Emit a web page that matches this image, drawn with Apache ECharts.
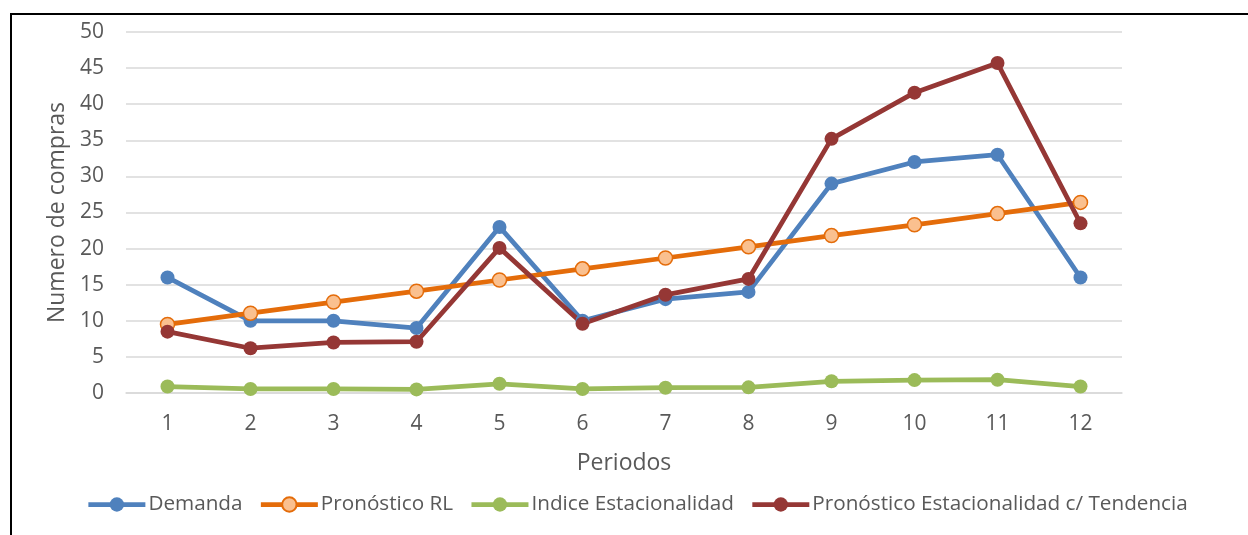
<!DOCTYPE html>
<html>
<head>
<meta charset="utf-8">
<script src="https://cdn.jsdelivr.net/npm/echarts@6/dist/echarts.min.js"></script>
<style>
  html, body { margin: 0; padding: 0; background: #fff; overflow: hidden; }
  #frame { position: absolute; left: 10px; top: 13px; width: 1400px; height: 700px; border: 2px solid #000; box-sizing: border-box; }
  #chart { position: absolute; left: 0; top: 0; width: 1248px; height: 535px; }
</style>
</head>
<body>
<div id="frame"></div>
<div id="chart"></div>
<script>
// Periods and series
const periodos = ['1','2','3','4','5','6','7','8','9','10','11','12'];
const demanda = [16, 10, 10, 9, 23, 10, 13, 14, 29, 32, 33, 16];
const pronosticoRL = [9.5, 11.05, 12.6, 14.1, 15.65, 17.2, 18.7, 20.25, 21.8, 23.3, 24.85, 26.4];
const indiceEstacionalidad = [0.89, 0.56, 0.56, 0.5, 1.28, 0.56, 0.73, 0.78, 1.62, 1.79, 1.84, 0.89];
const pronosticoEstTend = [8.5, 6.2, 7.0, 7.1, 20.1, 9.6, 13.6, 15.8, 35.2, 41.6, 45.7, 23.5];

const FONT = '"Open Sans", sans-serif';
const TXT = '#595959';

const chart = echarts.init(document.getElementById('chart'));

function lineSeries(name, data, color, fill) {
  return {
    name: name,
    type: 'line',
    data: data,
    symbol: 'circle',
    symbolSize: 14,
    showAllSymbol: true,
    lineStyle: { color: color, width: 4.75 },
    itemStyle: fill
      ? { color: fill, borderColor: color, borderWidth: 1.5 }
      : { color: color, borderWidth: 0 },
    emphasis: { disabled: true },
    animation: false
  };
}

chart.setOption({
  animation: false,
  grid: { left: 126, right: 126, top: 32, bottom: 142 },
  legend: {
    bottom: 15,
    left: 81,
    itemWidth: 57,
    itemHeight: 18,
    itemGap: 16,
    lineStyle: { width: 4.75 },
    textStyle: { fontFamily: FONT, fontSize: 20.7, color: TXT, padding: [0, 0, 0, -2] },
    data: ['Demanda', 'Pronóstico RL', 'Indice Estacionalidad', 'Pronóstico Estacionalidad c/ Tendencia']
  },
  xAxis: {
    type: 'category',
    data: periodos,
    boundaryGap: true,
    name: 'Periodos',
    nameLocation: 'middle',
    nameGap: 58.5,
    nameTextStyle: { fontFamily: FONT, fontSize: 23, color: TXT },
    axisLine: { show: true, lineStyle: { color: '#d9d9d9', width: 1.5 } },
    axisTick: { show: false },
    axisLabel: { fontFamily: FONT, fontSize: 21, color: TXT, margin: 21 }
  },
  yAxis: {
    type: 'value',
    min: 0,
    max: 50,
    interval: 5,
    name: 'Numero de compras',
    nameLocation: 'middle',
    nameGap: 57.5,
    nameTextStyle: { fontFamily: FONT, fontSize: 23, color: TXT },
    axisLine: { show: false },
    axisTick: { show: false },
    axisLabel: { fontFamily: FONT, fontSize: 21, color: TXT, margin: 22 },
    splitLine: { lineStyle: { color: '#d9d9d9', width: 1.5 } }
  },
  series: [
    lineSeries('Demanda', demanda, '#4F81BD'),
    lineSeries('Pronóstico RL', pronosticoRL, '#E46C0A', '#FAC08F'),
    lineSeries('Indice Estacionalidad', indiceEstacionalidad, '#9BBB59'),
    lineSeries('Pronóstico Estacionalidad c/ Tendencia', pronosticoEstTend, '#953735')
  ]
});
</script>
</body>
</html>
